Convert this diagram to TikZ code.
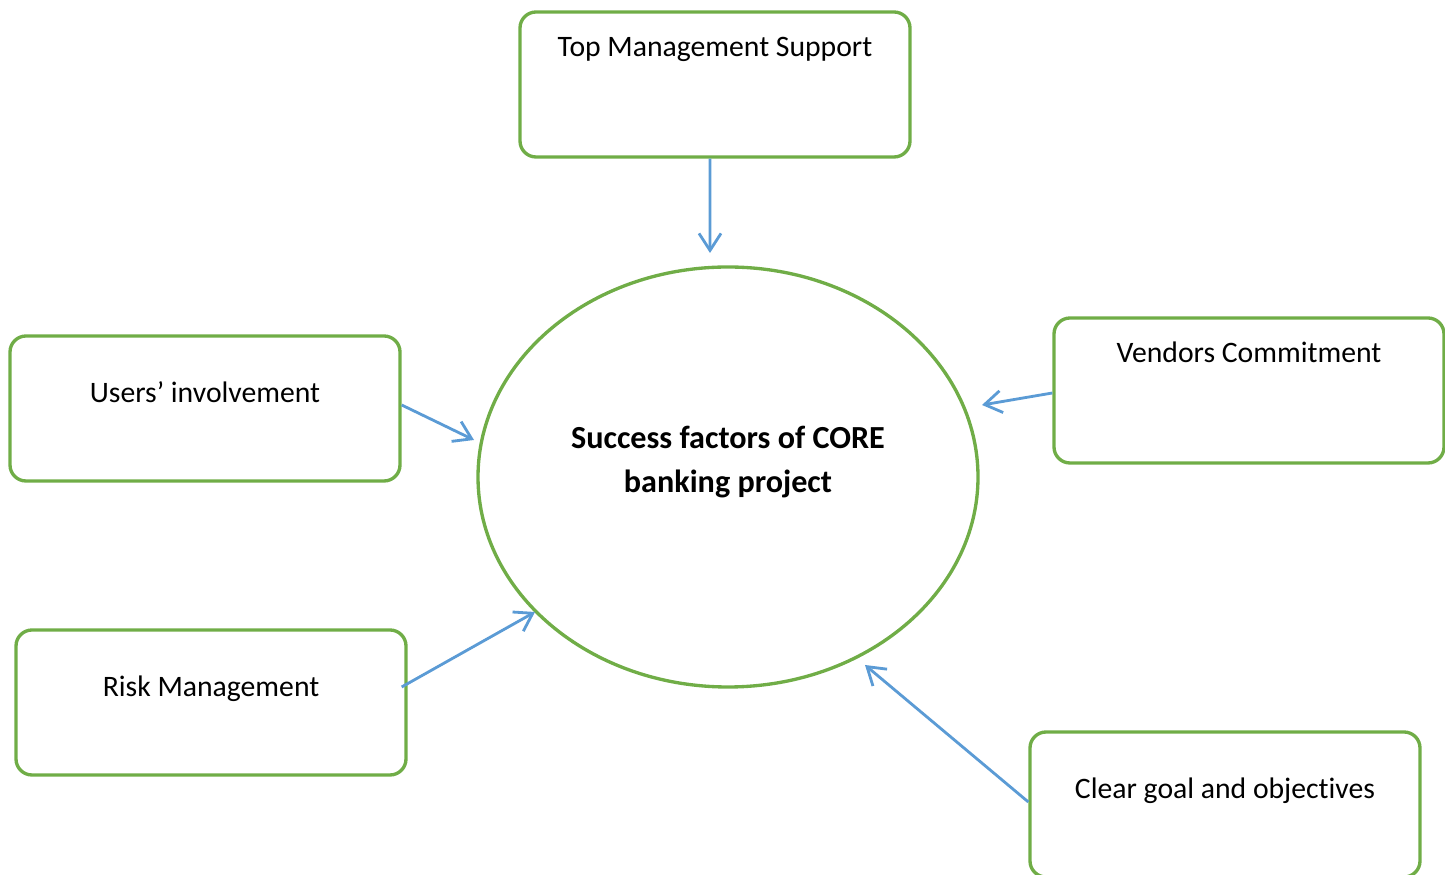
\documentclass[tikz,border=0pt]{standalone}
\usepackage{fontspec}
\setmainfont{Carlito}[Ligatures=NoCommon]
\usepackage{tikz}
\usetikzlibrary{arrows.meta,shapes.geometric}
\definecolor{boxgreen}{HTML}{70AD47}
\definecolor{linkblue}{HTML}{5B9BD5}
\tikzset{
  factor/.style={draw=boxgreen,line width=0.95pt,rounded corners=1.6mm,
    minimum width=3.9cm,minimum height=1.45cm},
  factortext/.style={anchor=base,font=\fontsize{8.45}{10.5}\selectfont,inner sep=0pt},
  core/.style={draw=boxgreen,line width=0.95pt,ellipse,minimum width=5.0cm,minimum height=4.2cm},
  coretext/.style={align=center,font=\fontsize{9.15}{12.5}\selectfont\bfseries},
  link/.style={-{Straight Barb[length=1.7mm,width=2.2mm]},draw=linkblue,line width=0.8pt}
}
\begin{document}
\begin{tikzpicture}[x=0.1mm,y=-0.1mm]
  \useasboundingbox (0,0) rectangle (1445,875);
  % centre of the diagram
  \node[core] (core) at (728,477) {};
  \node[coretext] (core-t) at (728,462) {Success factors of CORE\\banking project};
  % the five factors
  \node[factor] (top) at (715,84.5) {};
  \node[factor] (users) at (205,408.5) {};
  \node[factor] (risk) at (211,702.5) {};
  \node[factor] (vendors) at (1249,390.5) {};
  \node[factor] (clear) at (1225,804.5) {};
  \node[factortext] (top-t) at (715,57) {Top Management Support};
  \node[factortext] (users-t) at (205,403) {Users’ involvement};
  \node[factortext] (risk-t) at (211,697) {Risk Management};
  \node[factortext] (vendors-t) at (1249,363) {Vendors Commitment};
  \node[factortext] (clear-t) at (1225,799) {Clear goal and objectives};
  % arrow tips stop just short of the ellipse
  \coordinate (in-top) at (710,253);
  \coordinate (in-users) at (474,440);
  \coordinate (in-risk) at (535,612);
  \coordinate (in-vendors) at (982,405);
  \coordinate (in-clear) at (865,665);
  \draw[link] ([xshift=-0.5mm]top.south) -- (in-top);
  \draw[link] ([yshift=0.35mm]users.east) -- (in-users);
  \draw[link] ([xshift=-0.6mm,yshift=1.55mm]risk.east) -- (in-risk);
  \draw[link] ([yshift=-0.25mm]vendors.west) -- (in-vendors);
  \draw[link] ([yshift=0.25mm]clear.west) -- (in-clear);
\end{tikzpicture}
\end{document}
